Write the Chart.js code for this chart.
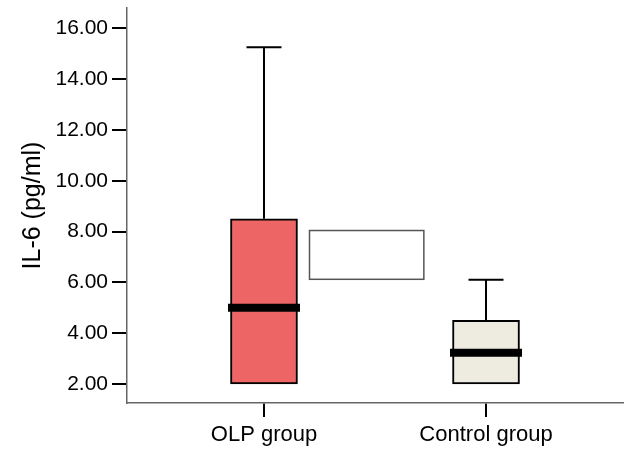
<!DOCTYPE html>
<html>
<head>
<meta charset="utf-8">
<script src="https://cdn.jsdelivr.net/npm/chart.js@4.4.0/dist/chart.umd.min.js"></script>
<style>
  html, body { margin: 0; padding: 0; background: #fff; }
  #wrap { width: 624px; height: 451px; }
</style>
</head>
<body>
<div id="wrap"><canvas id="myChart"></canvas></div>
<script>
// box plot values
var groups = ['OLP group', 'Control group'];
var mins = [2.0, 2.0];
var q1 = [2.0, 2.0];
var medians = [5.0, 3.23];
var q3 = [8.5, 4.5];
var maxs = [15.25, 6.1];
var yTicks = [2, 4, 6, 8, 10, 12, 14, 16];

var boxColors = ['#ED6565', '#EEEBE0'];
var fontFamily = "'Liberation Sans', Arial, Helvetica, sans-serif";

// whiskers, caps, medians and the empty box between the groups
var boxParts = {
    id: 'boxParts',
    afterDatasetsDraw: function(chart) {
        var ctx = chart.ctx;
        var x = chart.scales.x, y = chart.scales.y;
        ctx.save();

        // blank rectangle (legend leftover in the original figure)
        var bx1 = x.getPixelForValue(1.205), bx2 = x.getPixelForValue(1.72);
        var by1 = y.getPixelForValue(8.04), by2 = y.getPixelForValue(6.12);
        ctx.fillStyle = '#fff';
        ctx.strokeStyle = '#555';
        ctx.lineWidth = 1.5;
        ctx.fillRect(bx1, by1, bx2 - bx1, by2 - by1);
        ctx.strokeRect(bx1, by1, bx2 - bx1, by2 - by1);

        for (var i = 0; i < groups.length; i++) {
            var cx = x.getPixelForValue(i + 1);
            var top = y.getPixelForValue(maxs[i]);
            var bottom = y.getPixelForValue(mins[i]);
            ctx.strokeStyle = '#000';
            ctx.lineWidth = 2;
            ctx.beginPath();
            ctx.moveTo(cx, y.getPixelForValue(q3[i]));
            ctx.lineTo(cx, top);
            ctx.moveTo(cx - 17.5, top);
            ctx.lineTo(cx + 17.5, top);
            if (mins[i] < q1[i]) {
                ctx.moveTo(cx, y.getPixelForValue(q1[i]));
                ctx.lineTo(cx, bottom);
                ctx.moveTo(cx - 17.5, bottom);
                ctx.lineTo(cx + 17.5, bottom);
            }
            ctx.stroke();

            ctx.lineWidth = 8;
            ctx.beginPath();
            var my = y.getPixelForValue(medians[i]);
            ctx.moveTo(cx - 36, my);
            ctx.lineTo(cx + 36, my);
            ctx.stroke();
        }
        ctx.restore();
    }
};

var ctx = document.getElementById('myChart').getContext('2d');
var myChart = new Chart(ctx, {
    type: 'bar',
    data: {
        datasets: [{
            data: groups.map(function(g, i) { return { x: i + 1, y: [q1[i], q3[i]] }; }),
            backgroundColor: boxColors,
            borderColor: '#000',
            borderWidth: 2,
            borderSkipped: false,
            barThickness: 67
        }]
    },
    options: {
        responsive: true,
        maintainAspectRatio: false,
        animation: false,
        layout: { padding: { top: 8, right: 1, left: 0, bottom: 0 } },
        scales: {
            x: {
                type: 'linear',
                offset: false,
                min: 0.383,
                max: 2.617,
                afterBuildTicks: function(s) {
                    s.ticks = groups.map(function(g, i) { return { value: i + 1 }; });
                },
                afterFit: function(s) { s.height = 48; },
                ticks: {
                    autoSkip: false,
                    maxRotation: 0,
                    padding: 5,
                    color: '#000',
                    font: { size: 22, family: fontFamily },
                    callback: function(value, index) { return groups[index]; }
                },
                grid: { offset: false, drawOnChartArea: false, tickLength: 14, color: '#000', lineWidth: 2 },
                border: { color: '#666', width: 1.5 }
            },
            y: {
                min: 1.25,
                max: 16.8,
                afterBuildTicks: function(s) {
                    s.ticks = yTicks.map(function(v) { return { value: v }; });
                },
                afterFit: function(s) {
                    s.width = 127;
                    s.paddingTop = 0;
                    s.paddingBottom = 0;
                },
                ticks: {
                    padding: 4,
                    color: '#000',
                    font: { size: 21, family: fontFamily },
                    callback: function(value) { return value.toFixed(2); }
                },
                grid: { drawOnChartArea: false, tickLength: 15, color: '#000', lineWidth: 2 },
                border: { color: '#666', width: 1.5 },
                title: {
                    display: true,
                    text: 'IL-6 (pg/ml)',
                    color: '#000',
                    font: { size: 25, family: fontFamily },
                    padding: { top: 18, bottom: 0 }
                }
            }
        },
        plugins: {
            legend: { display: false },
            tooltip: { enabled: false }
        }
    },
    plugins: [boxParts]
});
</script>
</body>
</html>
